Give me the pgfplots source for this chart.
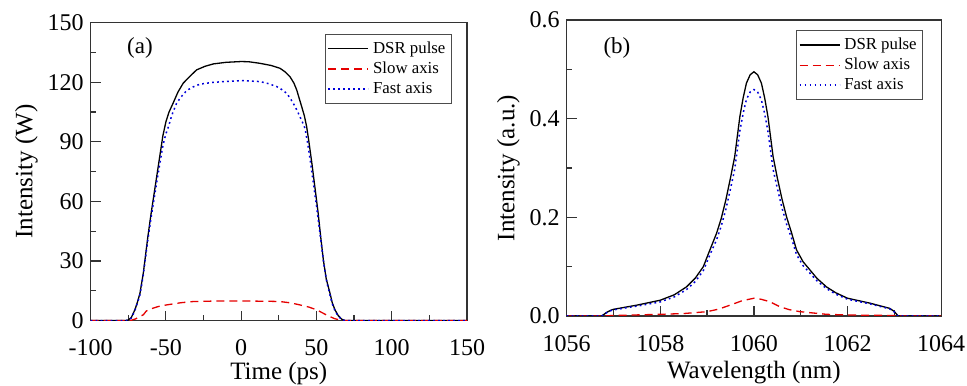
\documentclass[border=0pt]{standalone}
\usepackage{fontspec}
\setmainfont{Liberation Serif}
\usepackage{pgfplots}
\pgfplotsset{compat=1.18}
\begin{document}
\begin{tikzpicture}
\useasboundingbox (0,0) rectangle (483.5pt,192.5pt);
\pgfplotsset{
  myax/.style={
    scale only axis,
    anchor=south west,
    axis line style={line width=0.6pt, black!80},
    tick pos=left,
    tick align=inside,
    major tick length=5pt,
    minor tick length=2.8pt,
    every tick/.style={black!80, line width=0.6pt},
    minor tick num=1,
    /pgf/number format/assume math mode=true,
    /pgf/number format/1000 sep={},
    tick label style={font=\fontsize{12}{13.5}\selectfont},
    xticklabel style={yshift=-6pt},
    label style={font=\fontsize{12.5}{14}\selectfont},
    legend cell align=left,
    legend style={font=\fontsize{8.4}{9.8}\selectfont, draw=black!70, line width=0.5pt,
      inner xsep=1pt, inner ysep=1.5pt, row sep=-1.2pt},
    legend image code/.code={\draw[#1] (0pt,0pt) -- (20pt,0pt);},
    clip=true,
  },
  dsr/.style={black, line width=0.65pt},
  slow/.style={red!90!black, line width=0.65pt, dash pattern=on 4pt off 2.5pt},
  fast/.style={blue!85!black, line width=0.75pt, dash pattern=on 0.9pt off 1.6pt},
}
\begin{axis}[myax,
  at={(45.3pt,32.2pt)}, width=188.2pt, height=149pt,
  xmin=-100, xmax=150, ymin=0, ymax=150,
  xtick={-100,-50,0,50,100,150},
  ytick={0,30,60,90,120,150},
  xlabel={Time (ps)}, ylabel={Intensity (W)},
  xlabel style={yshift=3.5pt},
  ylabel style={yshift=-2pt},
  legend style={at={(0.96,0.962)}, anchor=north east},
]
\addplot[dsr] coordinates {
(-100,0) (-77,0) (-75,0.3) (-73,1.5) (-70.6,5.4) (-69,9) (-67.2,13.8) (-65,23.9) (-63.9,30.5)
(-62,42) (-60,53) (-58,63) (-56,73) (-54,83) (-52,93) (-50,100) (-48,104.8) (-45,109.8)
(-42,115) (-38.5,119.5) (-34,123) (-29.6,126.2) (-24,128) (-18.5,129.2) (-10,130) (0,130.4)
(5,130.3) (12.5,129.5) (20,128.4) (25.8,127) (29,125.3) (32.4,122.8) (35,119.6) (36.9,116.1)
(38.5,112) (40.2,107.7) (42,103) (43.5,97.6) (45,90) (47,79) (49,67) (51,55) (53,41)
(54.6,30.5) (56.5,21) (59,13.8) (60.5,9) (62.3,5.4) (64.5,2.5) (66.8,0.7) (69,0) (150,0)
};
\addlegendentry{DSR pulse}
\addplot[slow] coordinates {
(-100,0) (-75,0) (-72.8,0.2) (-70,0.9) (-67.5,2) (-65,2.9) (-63,4.8) (-60,5.9) (-55,7.1)
(-49.5,7.9) (-40,9) (-31.8,9.6) (-20,9.8) (-3,9.9) (10,9.8) (20,9.7) (25.8,9.6) (33,8.9)
(39,7.9) (45,6.8) (50.2,5.4) (55,3.5) (59,2) (62,1) (65.6,0.3) (68,0) (150,0)
};
\addlegendentry{Slow axis}
\addplot[fast] coordinates {
(-100,0) (-77,0) (-75,0.2) (-73,1.3) (-70.6,5) (-67.2,13) (-65,23) (-63.9,29.5) (-62,40.5)
(-60,51) (-58,60.5) (-56,70) (-54,79) (-52,88) (-50,94) (-48.3,97.6) (-46,103.5)
(-42.9,109.4) (-40,112.5) (-36.2,115.8) (-32,117.6) (-27.4,119) (-20,119.8) (-11.9,120.3)
(0,120.8) (12.5,120.3) (18,119.3) (23.6,117.8) (27,116.3) (30.2,114.4) (32.5,112)
(34.6,109.4) (37,106) (39,102.7) (40.8,99.7) (42.4,96.8) (44,90) (46,80) (48,69) (50,58)
(52,46) (54,34) (55,28) (57,19) (59,12.8) (60.5,8.5) (62.3,5) (64.5,2.2) (66.8,0.6) (69,0) (150,0)
};
\addlegendentry{Fast axis}
\node[anchor=west, font=\fontsize{11.5}{13}\selectfont, inner sep=0pt] at (axis cs:-76,137) {(a)};
\end{axis}
\begin{axis}[myax,
  at={(283.3pt,34.5pt)}, width=187.3pt, height=148pt,
  xmin=1056, xmax=1064, ymin=0, ymax=0.6,
  xtick={1056,1058,1060,1062,1064},
  ytick={0,0.2,0.4,0.6},
  yticklabel style={/pgf/number format/.cd, fixed, fixed zerofill, precision=1},
  xlabel={Wavelength (nm)}, ylabel={Intensity (a.u.)},
  xlabel style={yshift=2pt},
  ylabel style={yshift=-2pt},
  legend style={at={(0.952,0.966)}, anchor=north east},
]
\addplot[dsr] coordinates {
(1056,0) (1056.75,0) (1056.85,0.007) (1056.95,0.012) (1057,0.0135) (1057.5,0.022) (1058,0.032)
(1058.3,0.043) (1058.56,0.059) (1058.75,0.077) (1058.92,0.1) (1059.06,0.134) (1059.2,0.167)
(1059.3,0.197) (1059.4,0.235) (1059.5,0.28) (1059.59,0.323) (1059.7,0.404) (1059.77,0.442)
(1059.84,0.472) (1059.92,0.489) (1060,0.495) (1060.08,0.489) (1060.16,0.472) (1060.23,0.442)
(1060.3,0.404) (1060.41,0.323) (1060.5,0.28) (1060.6,0.237) (1060.7,0.2) (1060.8,0.17)
(1060.91,0.134) (1061.05,0.11) (1061.2,0.093) (1061.35,0.076) (1061.55,0.059) (1061.75,0.047)
(1062,0.036) (1062.48,0.026) (1062.9,0.0155) (1063,0.009) (1063.08,0) (1064,0)
};
\addlegendentry{DSR pulse}
\addplot[slow] coordinates {
(1056,0) (1056.75,0) (1057,0.001) (1058,0.0034) (1058.5,0.005) (1059,0.0088) (1059.25,0.014)
(1059.49,0.022) (1059.75,0.031) (1060,0.036) (1060.15,0.034) (1060.34,0.029) (1060.55,0.019)
(1060.75,0.013) (1060.98,0.0088) (1061.55,0.0034) (1062,0.002) (1063,0.001) (1063.08,0) (1064,0)
};
\addlegendentry{Slow axis}
\addplot[fast] coordinates {
(1056,0) (1056.75,0) (1056.85,0.0066) (1056.95,0.011) (1057,0.0125) (1057.5,0.020) (1058,0.0286)
(1058.3,0.0388) (1058.56,0.0535) (1058.75,0.070) (1058.92,0.092) (1059.06,0.124) (1059.2,0.154)
(1059.3,0.1815) (1059.4,0.216) (1059.5,0.2577) (1059.59,0.2975) (1059.7,0.375) (1059.77,0.411)
(1059.84,0.439) (1059.92,0.454) (1060,0.459) (1060.08,0.454) (1060.16,0.438) (1060.23,0.41)
(1060.3,0.374) (1060.41,0.297) (1060.5,0.259) (1060.6,0.219) (1060.7,0.1855) (1060.8,0.159)
(1060.91,0.1245) (1061.05,0.102) (1061.2,0.0865) (1061.35,0.071) (1061.55,0.0556) (1061.75,0.0442)
(1062,0.034) (1062.48,0.0245) (1062.9,0.0145) (1063,0.008) (1063.08,0) (1064,0)
};
\addlegendentry{Fast axis}
\node[anchor=west, font=\fontsize{11.5}{13}\selectfont, inner sep=0pt] at (axis cs:1056.78,0.543) {(b)};
\end{axis}
\end{tikzpicture}
\end{document}
